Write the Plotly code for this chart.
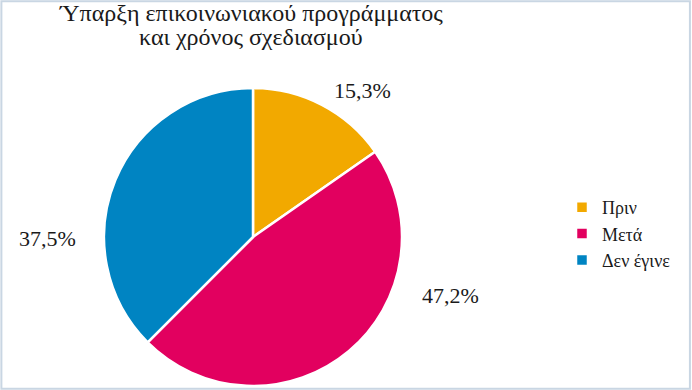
import plotly.graph_objects as go

# Data
categories = ["Πριν", "Μετά", "Δεν έγινε"]
values = [15.3, 47.2, 37.5]
title_lines = ["Ύπαρξη επικοινωνιακού προγράμματος", "και χρόνος σχεδιασμού"]

# Styles / layout (not data)
colors = ["#F2A900", "#E2005F", "#0084C2"]
label_pos = [(362, 90), (450, 295), (48, 238)]  # pixel positions of percentage labels
title_pos = [(251, 13), (251, 37)]
W, H = 692, 390
FONT = "Liberation Serif"

cx, cy, r = 253, 237, 149

fig = go.Figure(go.Pie(
    labels=categories,
    values=values,
    sort=False,
    direction="clockwise",
    rotation=0,
    marker=dict(colors=colors, line=dict(color="white", width=2.5)),
    textinfo="none",
    hoverinfo="label+percent",
    domain=dict(x=[(cx - r) / W, (cx + r) / W], y=[(H - cy - r) / H, (H - cy + r) / H]),
))

annotations = []
for v, (px, py) in zip(values, label_pos):
    annotations.append(dict(
        x=px / W, y=1 - py / H, xref="paper", yref="paper",
        text=f"{v:.1f}".replace(".", ",") + "%",
        showarrow=False, xanchor="center", yanchor="middle",
        font=dict(family=FONT, size=22, color="#1a1a1a"),
    ))

for line, (px, py) in zip(title_lines, title_pos):
    annotations.append(dict(
        x=px / W, y=1 - py / H, xref="paper", yref="paper",
        text=line, showarrow=False,
        xanchor="center", yanchor="middle",
        font=dict(family=FONT, size=24, color="#1a1a1a"),
    ))

fig.update_layout(
    width=W, height=H,
    margin=dict(l=0, r=0, t=0, b=0),
    paper_bgcolor="white",
    plot_bgcolor="white",
    separators=",.",
    showlegend=True,
    legend=dict(
        x=562 / W, y=1 - 189 / H, xanchor="left", yanchor="top",
        font=dict(family=FONT, size=18, color="#1a1a1a"),
        itemclick=False, itemdoubleclick=False,
    ),
    annotations=annotations,
    shapes=[dict(type="rect", xref="paper", yref="paper", x0=0.002, y0=0.003, x1=0.997, y1=0.997,
                 line=dict(color="#C9D6E3", width=2))],
)

fig.write_html("out.html", config={"displayModeBar": False},
               post_script="document.body.style.margin='0';")
